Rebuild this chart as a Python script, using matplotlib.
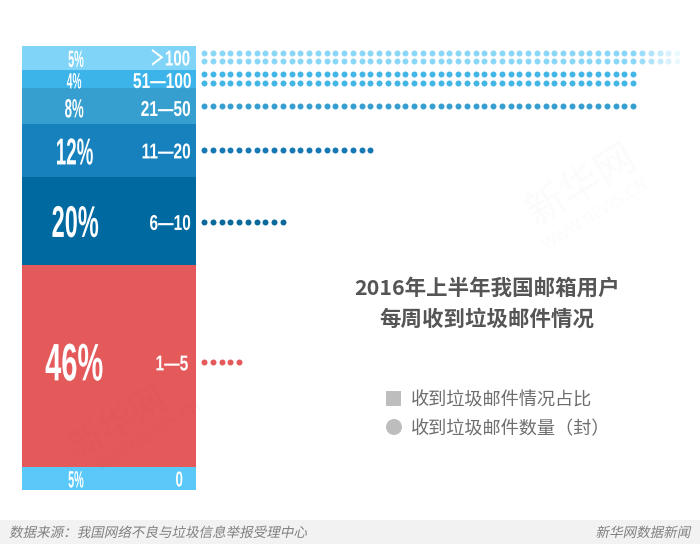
import matplotlib
matplotlib.use("Agg")
import matplotlib.pyplot as plt
import matplotlib.patheffects as pe
from matplotlib.patches import Rectangle, Circle
from matplotlib.transforms import Affine2D

# ---- data ----
pct_labels = ["5%", "4%", "8%", "12%", "20%", "46%", "5%"]
range_labels = ["＞100", "51—100", "21—50", "11—20", "6—10", "1—5", "0"]
# band heights (share of the whole column)
band_shares = [5.4, 4.05, 8.1, 11.95, 19.8, 45.5, 5.2]
dot_rows_gt100 = [55, 55]
dot_rows_51_100 = [50, 50]
dot_rows_21_50 = [50]
dot_rows_11_20 = [20]
dot_rows_6_10 = [10]
dot_rows_1_5 = [5]
band_colors = ["#7FD4F8", "#3CB4E9", "#379FCF", "#1681BD", "#0069A0", "#E45A5A", "#5AC8F9"]
dot_colors = ["#8AD7F8", "#42B6E6", "#379FCF", "#1779B3", "#0A6A9C", "#E45A5A"]

title_lines = ["2016年上半年我国邮箱用户", "每周收到垃圾邮件情况"]
legend_labels = ["收到垃圾邮件情况占比", "收到垃圾邮件数量（封）"]
source_text = "数据来源：我国网络不良与垃圾信息举报受理中心"
brand_text = "新华网数据新闻"
watermark = "新华网"
watermark_sub = "WWW.NEWS.CN"

# ---- layout ----
W, H = 700, 544
CJK = ["Noto Sans CJK SC", "DejaVu Sans"]
plt.rcParams["font.family"] = CJK


class Squeeze(pe.AbstractPathEffect):
    """Draw text narrower (about its own centre) and optionally slanted."""
    def __init__(self, sx=1.0, skew=0.0):
        super().__init__()
        self.sx, self.skew = sx, skew

    def draw_path(self, renderer, gc, tpath, affine, rgbFace=None):
        ext = tpath.get_extents()
        cx = (ext.x0 + ext.x1) / 2
        m = Affine2D().translate(-cx, 0).scale(self.sx, 1).translate(cx, 0).skew_deg(self.skew, 0)
        renderer.draw_path(gc, tpath, m + affine, rgbFace)


fig = plt.figure(figsize=(W / 100, H / 100), dpi=100, facecolor="white")

page = fig.add_axes([0, 0, 1, 1], zorder=0)
page.set_xlim(0, W); page.set_ylim(H, 0); page.axis("off")
page.add_patch(Rectangle((0, 520), W, 24, color="#F2F2F2", lw=0))


def axes_px(x0, y0, x1, y1, **kw):
    return fig.add_axes([x0 / W, 1 - y1 / H, (x1 - x0) / W, (y1 - y0) / H], **kw)


# column
total = sum(band_shares)
col = axes_px(22, 46, 196, 490, zorder=1)
col.set_xlim(0, 1); col.set_ylim(total, 0); col.axis("off")
tops = []
t = 0
for s, c in zip(band_shares, band_colors):
    col.bar(0.5, s, width=1, bottom=t, color=c, linewidth=0)
    tops.append(t)
    t += s
mids = [a + s / 2 for a, s in zip(tops, band_shares)]

BOLD = ["Liberation Sans", "Noto Sans CJK SC", "DejaVu Sans"]
pct_sizes = [17, 16, 19, 27, 32, 38, 17]
pct_w = [0.46, 0.46, 0.50, 0.50, 0.53, 0.55, 0.46]
pct_x = [0.31, 0.30, 0.30, 0.30, 0.305, 0.30, 0.31]
pct_dy = [0, 1.5, 2, 0, 0, -5, 0]
rng_sizes = [15.5, 15.5, 15.5, 15.5, 15.5, 15.5, 15.5]
rng_w = [0.70, 0.72, 0.72, 0.72, 0.72, 0.72, 0.62]
rng_x = [0.965, 0.975, 0.97, 0.97, 0.97, 0.955, 0.925]
rng_dy = [-0.5, 1, 2, 0, 1, -3.5, 0]
PX = total / 444
r = fig.canvas.get_renderer()
for i in range(len(pct_labels)):
    col.text(pct_x[i], mids[i] + pct_dy[i] * PX, pct_labels[i], color="white", fontsize=pct_sizes[i],
             fontweight="bold", family=BOLD, ha="center", va="center_baseline",
             path_effects=[Squeeze(pct_w[i])])
    tx = col.text(rng_x[i], mids[i] + rng_dy[i] * PX, range_labels[i], color="white", fontsize=rng_sizes[i],
                  fontweight="bold", family=BOLD, ha="center", va="center_baseline",
                  path_effects=[Squeeze(rng_w[i])])
    w = tx.get_window_extent(r).width * rng_w[i] / 174
    tx.set_x(rng_x[i] - w / 2)

# dots
step = 8.76
first = 204
dots = axes_px(200, 46, 700, 490, zorder=1)
dots.set_xlim(1 + (200 - first) / step, 1 + (700 - first) / step)
dots.set_ylim(total, 0); dots.axis("off")
rows = [(dot_rows_gt100, 0, [-5.3, 3.3]), (dot_rows_51_100, 1, [-4.6, 4.1]),
        (dot_rows_21_50, 2, [0]), (dot_rows_11_20, 3, [-0.5]),
        (dot_rows_6_10, 4, [1.3]), (dot_rows_1_5, 5, [-3.7])]
DOT = 18.5
for counts, band, offs in rows:
    for n, off in zip(counts, offs):
        xs = list(range(1, n + 1))
        y = mids[band] + off * PX
        if band == 0:
            fade = 6
            for x in xs:
                a = min(1.0, (n + 1 - x) / fade)
                dots.scatter([x], [y], s=DOT, color=dot_colors[band], alpha=a, linewidths=0)
        else:
            dots.scatter(xs, [y] * n, s=DOT, color=dot_colors[band], linewidths=0)

# title and legend
for line, y in zip(title_lines, [288, 319]):
    page.text(487, y, line, color="#555555", fontsize=15.45, fontweight="bold", ha="center", va="center")
page.add_patch(Rectangle((386, 391), 15, 15, color="#BDBDBD", lw=0))
page.add_patch(Circle((394, 427), 8, color="#BDBDBD", lw=0))
for label, y in zip(legend_labels, [401, 429]):
    page.text(411, y, label, color="#6E6E6E", fontsize=13.1, ha="left", va="center")

# footer, slanted
page.text(9, 533, source_text, color="#808080", fontsize=9.75, ha="left", va="center",
          path_effects=[Squeeze(1.0, 12)])
page.text(690, 533, brand_text, color="#808080", fontsize=9.75, ha="right", va="center",
          path_effects=[Squeeze(1.0, 12)])

# watermarks
over = axes_px(0, 0, W, H, zorder=2)
over.set_xlim(0, W); over.set_ylim(H, 0); over.axis("off"); over.patch.set_alpha(0)
for (x, y), (sx, sy), c_w, a, fs in [((582, 185), (596, 215), "#999999", 0.035, 29),
                                     ((118, 424), (150, 436), "#7A2020", 0.03, 26)]:
    over.text(x, y, watermark, fontsize=fs, color=c_w, alpha=a, rotation=31,
              ha="center", va="center", rotation_mode="anchor")
    over.text(sx, sy, watermark_sub, fontsize=11, color=c_w, alpha=a, rotation=32,
              ha="center", va="center", rotation_mode="anchor", family=["DejaVu Sans"])

fig.savefig("out.png", dpi=100, facecolor="white")
